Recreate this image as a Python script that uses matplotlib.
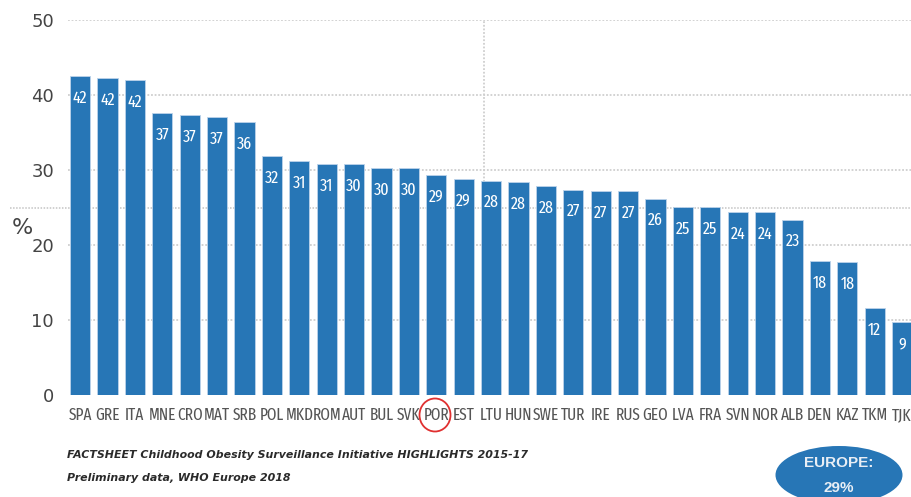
import matplotlib.pyplot as plt
from matplotlib.patches import Ellipse

countries = ["SPA", "GRE", "ITA", "MNE", "CRO", "MAT", "SRB", "POL", "MKD", "ROM",
             "AUT", "BUL", "SVK", "POR", "EST", "LTU", "HUN", "SWE", "TUR", "IRE",
             "RUS", "GEO", "LVA", "FRA", "SVN", "NOR", "ALB", "DEN", "KAZ", "TKM", "TJK"]
values = [42.5, 42.3, 42.0, 37.6, 37.3, 37.1, 36.4, 31.9, 31.2, 30.8,
          30.8, 30.3, 30.3, 29.3, 28.8, 28.6, 28.4, 27.9, 27.4, 27.2,
          27.2, 26.2, 25.1, 25.1, 24.4, 24.4, 23.4, 17.9, 17.7, 11.6, 9.7]
labels = [42, 42, 42, 37, 37, 37, 36, 32, 31, 31, 30, 30, 30, 29, 29, 28,
          28, 28, 27, 27, 27, 26, 25, 25, 24, 24, 23, 18, 18, 12, 9]
yticks = [0, 10, 20, 30, 40, 50]

blue = "#2776b6"
narrow = ["Fira Sans Extra Condensed", "Liberation Sans"]

fig = plt.figure(figsize=(9.12, 4.97), dpi=100)
ax = fig.add_axes([68 / 912, 1 - 395 / 497, 844 / 912, 375 / 497])

x = list(range(len(countries)))
ax.bar(x, values, width=0.74, color=blue, edgecolor="#bcd3ea", linewidth=0.6, zorder=3)

for xi, v, lab in zip(x, values, labels):
    ax.text(xi, v - 1.9, str(lab), ha="center", va="top", color="white",
            fontsize=12.5, family=narrow, zorder=4)

ax.set_xlim(-0.44, 30.36)
ax.set_ylim(0, 50)
ax.set_yticks(yticks)
ax.set_yticklabels([str(t) for t in yticks], fontsize=13, color="#444444")
ax.set_xticks(x)
ax.set_xticklabels(countries, fontsize=12, color="#555555", family=narrow)
ax.tick_params(axis="both", length=0)
ax.tick_params(axis="x", pad=9)
ax.tick_params(axis="y", pad=10)
for s in ax.spines.values():
    s.set_visible(False)

for t in yticks[1:]:
    ax.axhline(t, color="#cfcfcf", linestyle=(0, (1, 1)), linewidth=1.3, zorder=1)
# reference lines (median country / 25%)
ax.axhline(25, xmin=-0.069, xmax=1, color="#c4c4c4", linestyle=(0, (1, 1)),
           linewidth=1.1, zorder=1, clip_on=False)
ax.axvline(14.74, color="#cfcfcf", linestyle=(0, (1, 1)), linewidth=1.3, zorder=1)

fig.text(12 / 912, 1 - 228 / 497, "%", fontsize=16, color="#444444", va="center")

# highlight Portugal
fig.add_artist(Ellipse((435 / 912, 1 - 415 / 497), 31 / 912, 33 / 497,
                       transform=fig.transFigure, fill=False, edgecolor="#e03030",
                       linewidth=1.3))

fig.text(67 / 912, 1 - 455 / 497,
         "FACTSHEET Childhood Obesity Surveillance Initiative HIGHLIGHTS 2015-17",
         fontsize=7.9, style="italic", weight="bold", color="#2a2a2a", va="center")
fig.text(67 / 912, 1 - 478 / 497, "Preliminary data, WHO Europe 2018",
         fontsize=7.9, style="italic", weight="bold", color="#2a2a2a", va="center")

fig.add_artist(Ellipse((839 / 912, 1 - 475 / 497), 127 / 912, 58 / 497,
                       transform=fig.transFigure, facecolor=blue, edgecolor="none"))
fig.text(839 / 912, 1 - 463 / 497, "EUROPE:", ha="center", va="center",
         color="#e8eef5", fontsize=11, weight="bold", family="Liberation Sans")
fig.text(839 / 912, 1 - 488 / 497, "29%", ha="center", va="center",
         color="#e8eef5", fontsize=11, weight="bold", family="Liberation Sans")

plt.savefig("out.png", dpi=100)
